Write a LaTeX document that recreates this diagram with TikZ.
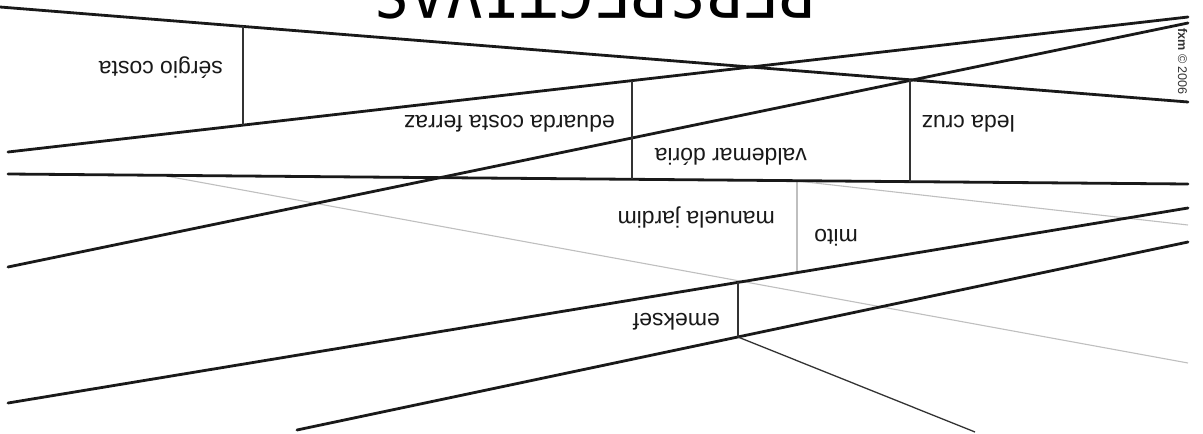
\documentclass[tikz,border=0pt]{standalone}
\usepackage{fontspec}
\setmainfont{Liberation Sans}
\newfontfamily\titlefont{DejaVu Sans Mono}
\begin{document}
\begin{tikzpicture}[x=1pt,y=-1pt,
  thick line/.style={line width=2.8pt,black!90,line cap=round},
  thin line/.style={line width=1.3pt,black!80},
  gray line/.style={line width=1.1pt,black!25},
  lbl/.style={rotate=180,anchor=base west,inner sep=0pt,font=\fontsize{23}{27}\selectfont,text=black!90}]
\useasboundingbox (0,0) rectangle (1203,434);
\clip (0,0) rectangle (1203,434);
% end points of the long lines
\coordinate (a1) at (0,7);     \coordinate (a2) at (1188,102);
\coordinate (b1) at (8,152);   \coordinate (b2) at (1188,17);
\coordinate (c1) at (8,267);   \coordinate (c2) at (1188,23);
\coordinate (d1) at (8,174);   \coordinate (d2) at (1188,184);
\coordinate (e1) at (8,403);   \coordinate (e2) at (1188,208);
\coordinate (f1) at (297,430); \coordinate (f2) at (1188,242);
\coordinate (g2) at (975,432);
\coordinate (h1) at (166,176); \coordinate (h2) at (1188,363);
\coordinate (k1) at (797,181); \coordinate (k2) at (1188,225);
% ends of the short verticals
\coordinate (s1) at (243,26.4); \coordinate (s2) at (243,125.1);
\coordinate (u1) at (632,80.6); \coordinate (u2) at (632,179.3);
\coordinate (l1) at (910,79.8); \coordinate (l2) at (910,181.6);
\coordinate (m1) at (797,180.7); \coordinate (m2) at (797,272.6);
\coordinate (x1) at (738,282.4); \coordinate (x2) at (738,337);
% gray lines
\draw[gray line] (h1) -- (h2);
\draw[gray line] (k1) -- (k2);
\draw[gray line] (m1) -- (m2);
% long lines
\draw[thick line] (a1) -- (a2);
\draw[thick line] (b1) -- (b2);
\draw[thick line] (c1) -- (c2);
\draw[thick line] (d1) -- (d2);
\draw[thick line] (e1) -- (e2);
\draw[thick line] (f1) -- (f2);
\draw[thin line] (x2) -- (g2);
% verticals
\draw[thin line] (s1) -- (s2);
\draw[thin line] (u1) -- (u2);
\draw[thin line] (l1) -- (l2);
\draw[thin line] (x1) -- (x2);
% labels
\node[lbl] (sergio) at (223,61) {sérgio costa};
\node[lbl] (eduarda) at (615,115) {eduarda costa ferraz};
\node[lbl] (leda) at (1015,115) {leda cruz};
\node[lbl] (valdemar) at (807,148) {valdemar dória};
\node[lbl] (manuela) at (775,211) {manuela jardim};
\node[lbl] (mito) at (858,229) {mito};
\node[lbl] (emeksef) at (720,313) {emeksef};
% title
\node[rotate=180,anchor=base west,inner sep=0pt,font=\titlefont\fontsize{61.5}{70}\selectfont] (title) at (817,-27) {PERSPECTIVAS};
% credit
\node[rotate=-90,anchor=base west,inner sep=0pt,font=\fontsize{12.6}{14}\selectfont,text=black!80] (credit) at (1178,28) {\textbf{fxm} © 2006};
\end{tikzpicture}
\end{document}
